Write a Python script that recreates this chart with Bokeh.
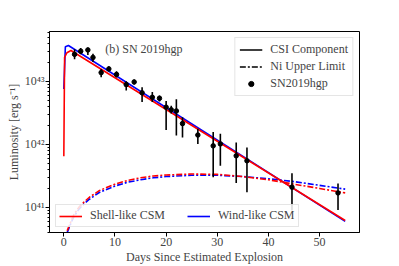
import numpy as np
from bokeh.plotting import figure
from bokeh.models import Legend, LegendItem, FixedTicker, CustomJSTickFormatter, Label
from bokeh.embed import file_html
from bokeh.resources import INLINE

# Observed data: SN2019hgp
days = [2.1, 3.3, 4.7, 5.7, 7.3, 8.8, 10.3, 12.2, 13.75, 15.3, 17.3, 18.7, 20.0,
        21.0, 22.0, 23.2, 26.2, 29.2, 30.6, 33.7, 35.8, 44.6, 53.6]
lum = [2.69e43, 3.02e43, 3.16e43, 2.40e43, 1.38e43, 1.58e43, 1.29e43, 8.9e42, 9.8e42,
       6.6e42, 5.6e42, 5.4e42, 3.9e42, 3.55e42, 3.4e42, 2.14e42, 1.41e42, 9.5e41,
       1.02e42, 6.6e41, 5.5e41, 2.1e41, 1.7e41]
lum_lo = [2.24e43, 2.69e43, 2.63e43, 2.04e43, 1.17e43, 1.45e43, 1.15e43, 7.2e42, 8.9e42,
          4.7e42, 4.7e42, 4.8e42, 1.7e42, 3.1e42, 1.38e42, 1.29e42, 1.02e42, 3.0e41,
          4.6e41, 2.45e41, 1.74e41, 8.9e40, 9.1e40]
lum_hi = [3.24e43, 3.39e43, 3.47e43, 2.75e43, 1.58e43, 1.74e43, 1.45e43, 1.01e43, 1.07e43,
          8.1e42, 6.8e42, 6.0e42, 4.9e42, 4.1e42, 5.2e42, 2.7e42, 1.78e42, 1.58e42,
          1.48e42, 1.07e42, 8.9e41, 3.5e41, 2.4e41]

# CSI component models
shell_csi_t = [0.0, 0.15, 0.6, 1.4, 55.0]
shell_csi_L = [6.5e41, 2.4e43, 2.85e43, 3.09e43, 6.2e40]
wind_csi_t = [0.0, 0.3, 0.9, 55.0]
wind_csi_L = [7.6e42, 3.55e43, 3.72e43, 6.0e40]

# Ni upper limit models
ni_t = [0.65, 1, 1.5, 2, 3, 4, 5, 7, 10, 12.5, 15, 17.5, 20, 25, 30, 35, 40, 45, 50, 55]
shell_ni_L = [4.27e40, 5.0e40, 6.3e40, 7.8e40, 1.02e41, 1.23e41, 1.45e41, 1.86e41, 2.34e41,
              2.69e41, 2.95e41, 3.16e41, 3.27e41, 3.39e41, 3.35e41, 3.09e41, 2.75e41,
              2.34e41, 2.0e41, 1.70e41]
wind_ni_L = [3.98e40, 4.68e40, 5.9e40, 7.2e40, 9.5e40, 1.15e41, 1.35e41, 1.74e41, 2.19e41,
             2.51e41, 2.75e41, 2.95e41, 3.09e41, 3.24e41, 3.24e41, 3.09e41, 2.85e41,
             2.57e41, 2.24e41, 1.95e41]

x_ticks = [0, 10, 20, 30, 40, 50]
y_ticks = [1e41, 1e42, 1e43]
y_minor = [k * 10.0 ** e for e in (40, 41, 42, 43) for k in range(2, 10)]

FONT = "Liberation Serif"

p = figure(width=399, height=266, output_backend="svg", toolbar_location=None,
           y_axis_type="log", x_range=(-2.8, 57.8), y_range=(4.0e40, 6.2e43),
           min_border_left=49, min_border_right=40, min_border_top=31, min_border_bottom=34)
p.xgrid.visible = False
p.ygrid.visible = False
p.outline_line_color = "black"
p.outline_line_width = 1
p.background_fill_color = "white"
p.border_fill_color = "white"

# model lines
wind_line = p.line(wind_csi_t, wind_csi_L, color="#0000ff", line_width=1.6)
p.line(ni_t, wind_ni_L, color="#0000ff", line_width=1.6, line_dash="6 2 2 2")
shell_line = p.line(shell_csi_t, shell_csi_L, color="#ff0000", line_width=1.6)
p.line(ni_t, shell_ni_L, color="#ff0000", line_width=1.6, line_dash="6 2 2 2")

# data with error bars
p.segment(x0=days, y0=lum_lo, x1=days, y1=lum_hi, line_color="black", line_width=1.6)
p.scatter(days, lum, marker="circle", size=4.5, color="black")

# dummy renderers (off-range) for the upper legend
off_x = [-100, -99]
off_y = [1e30, 1e30]
csi_d = p.line(off_x, off_y, color="black", line_width=1.6)
ni_d = p.line(off_x, off_y, color="black", line_width=1.6, line_dash="6 2 2 2")
bar_d = p.scatter(off_x, off_y, marker="dash", size=11, angle=np.pi / 2,
                  line_color="black", line_width=1.6)
dot_d = p.scatter(off_x, off_y, marker="circle", size=4.5, color="black")

leg1 = Legend(items=[LegendItem(label="CSI Component", renderers=[csi_d]),
                     LegendItem(label="Ni Upper Limit", renderers=[ni_d]),
                     LegendItem(label="SN2019hgp", renderers=[bar_d, dot_d])],
              location="top_right", margin=6, padding=4, spacing=2,
              glyph_height=13, glyph_width=23, label_height=13, label_standoff=8,
              label_text_font=FONT, label_text_font_size="12px",
              border_line_color="#cccccc", background_fill_alpha=0.85)
p.add_layout(leg1)

leg2 = Legend(items=[LegendItem(label="Shell-like CSM", renderers=[shell_line]),
                     LegendItem(label="Wind-like CSM", renderers=[wind_line])],
              orientation="horizontal", location=(6, 5), margin=0, padding=3,
              spacing=22, glyph_height=12, glyph_width=23, label_height=12, label_standoff=8,
              label_text_font=FONT, label_text_font_size="12px",
              border_line_color="#cccccc", background_fill_alpha=0.85)
p.add_layout(leg2)

p.add_layout(Label(x=8.1, y=3.3e43, text="(b) SN 2019hgp", text_font=FONT,
                   text_font_size="12px", text_baseline="middle", text_align="left"))

# axes
p.xaxis.ticker = FixedTicker(ticks=x_ticks)
p.yaxis.ticker = FixedTicker(ticks=y_ticks, minor_ticks=y_minor)
p.yaxis.formatter = CustomJSTickFormatter(code="""
const sup = {"0":"\u2070","1":"\u00b9","2":"\u00b2","3":"\u00b3","4":"\u2074",
             "5":"\u2075","6":"\u2076","7":"\u2077","8":"\u2078","9":"\u2079"};
const e = String(Math.round(Math.log10(tick)));
return "10" + e.split("").map(c => sup[c]).join("");
""")
p.xaxis.axis_label = "Days Since Estimated Explosion"
p.yaxis.axis_label = "Luminosity [erg s\u207b\u00b9]"
for ax in (p.xaxis, p.yaxis):
    ax.axis_label_text_font = FONT
    ax.axis_label_text_font_style = "normal"
    ax.axis_label_text_font_size = "12px"
    ax.major_label_text_font = FONT
    ax.major_label_text_font_size = "12px"
    ax.axis_line_color = "black"
    ax.major_tick_line_color = "black"
    ax.minor_tick_line_color = "black"
    ax.major_tick_in = 0
    ax.major_tick_out = 4
    ax.minor_tick_in = 0
    ax.minor_tick_out = 2
    ax.major_label_standoff = 1
    ax.axis_label_standoff = 1
p.xaxis.minor_tick_line_color = None

open("out.html", "w").write(file_html(p, INLINE))
